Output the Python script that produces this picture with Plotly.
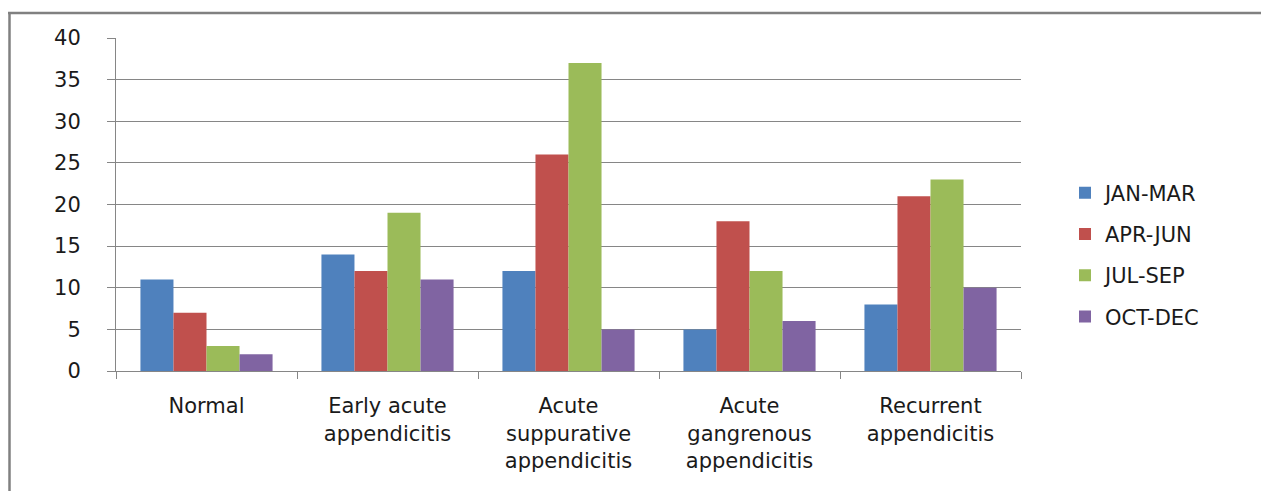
import plotly.graph_objects as go

categories = ["Normal", "Early acute<br>appendicitis", "Acute<br>suppurative<br>appendicitis",
              "Acute<br>gangrenous<br>appendicitis", "Recurrent<br>appendicitis"]
series_names = ["JAN-MAR", "APR-JUN", "JUL-SEP", "OCT-DEC"]
jan_mar = [11, 14, 12, 5, 8]
apr_jun = [7, 12, 26, 18, 21]
jul_sep = [3, 19, 37, 12, 23]
oct_dec = [2, 11, 5, 6, 10]
colors = ["#4F81BD", "#C0504D", "#9BBB59", "#8064A2"]
y_ticks = [0, 5, 10, 15, 20, 25, 30, 35, 40]

W, H = 1261, 491
L, R, T, B = 116, 240, 38, 120
pw, ph = W - L - R, H - T - B

FONT = dict(family="DejaVu Sans", size=21, color="#1a1a1a")

fig = go.Figure()
for name, vals, col in zip(series_names, [jan_mar, apr_jun, jul_sep, oct_dec], colors):
    fig.add_trace(go.Bar(x=categories, y=vals, name=name, marker=dict(color=col, line=dict(width=0)),
                         legendgroup=name))

def px_x(p):
    return (p - L) / pw

def px_y(p):
    return (H - B - p) / ph

fig.update_layout(
    width=W, height=H,
    margin=dict(l=L, r=R, t=T, b=B),
    paper_bgcolor="white", plot_bgcolor="white",
    barmode="group", bargap=0.27, bargroupgap=0,
    font=FONT,
    showlegend=True,
    legend=dict(x=px_x(1065), y=px_y(255), xanchor="left", yanchor="middle",
                font=FONT, tracegroupgap=11, traceorder="grouped",
                itemwidth=30, bgcolor="rgba(0,0,0,0)"),
    xaxis=dict(type="category", showgrid=False, showline=True, linecolor="#868686", linewidth=1,
               ticks="outside", tickson="boundaries", ticklen=7, tickcolor="#868686",
               tickfont=FONT, ticklabelstandoff=16, tickangle=0),
    yaxis=dict(range=[0, 40], tickvals=y_ticks, showgrid=True, gridcolor="#868686", gridwidth=1,
               showline=True, linecolor="#868686", linewidth=1, ticks="outside", ticklen=8,
               tickcolor="#868686", tickfont=FONT, ticklabelstandoff=22, zeroline=False),
    shapes=[
        dict(type="line", xref="paper", yref="paper", x0=px_x(9.5), x1=px_x(9.5), y0=px_y(12), y1=px_y(495),
             line=dict(color="#808080", width=2.5)),
        dict(type="line", xref="paper", yref="paper", x0=px_x(8), x1=px_x(1265), y0=px_y(13), y1=px_y(13),
             line=dict(color="#808080", width=2.5)),
    ],
)

fig.write_html("out.html")
